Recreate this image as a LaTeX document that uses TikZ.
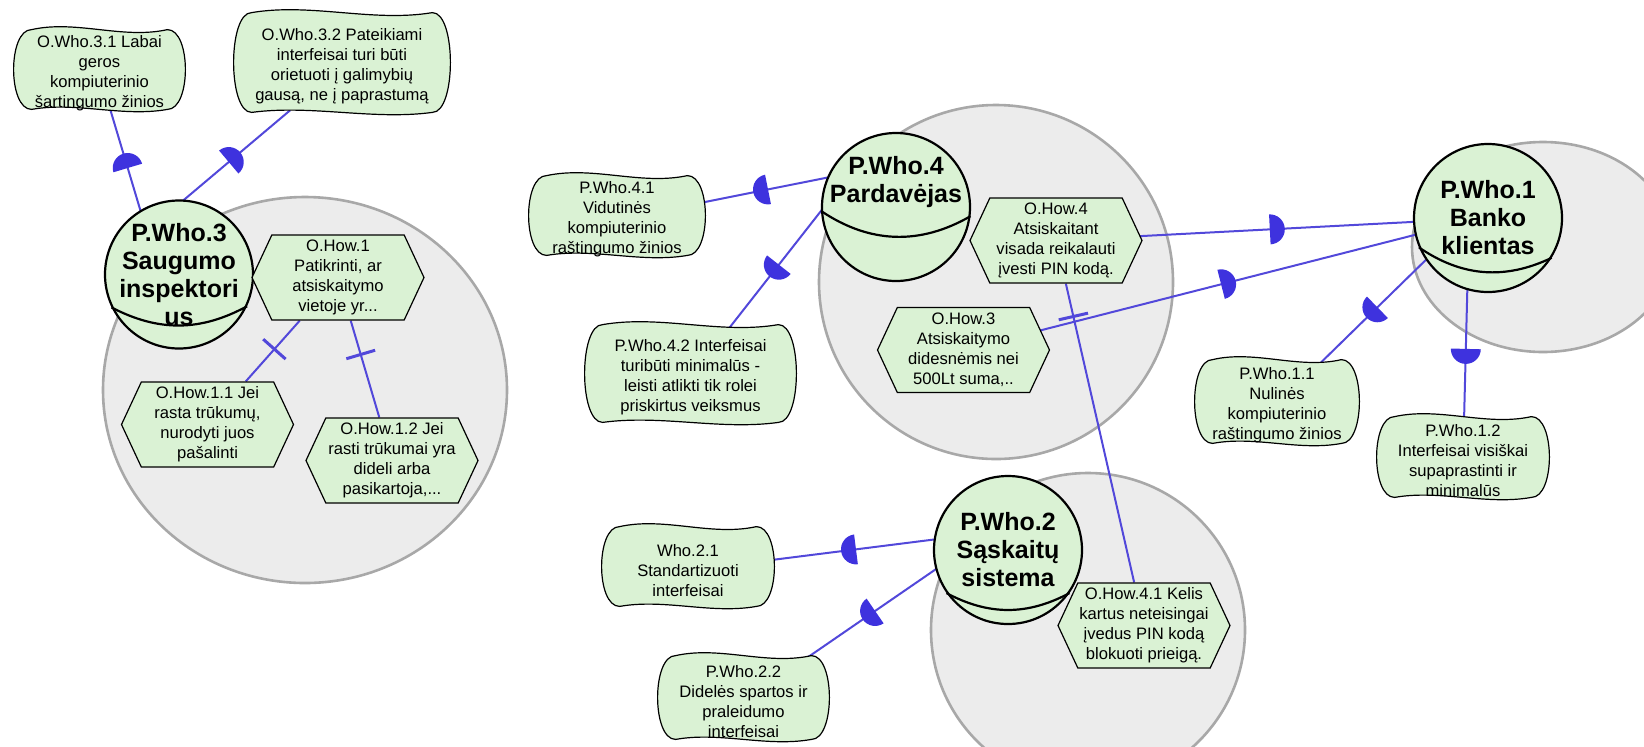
\documentclass[tikz,border=0pt]{standalone}
\usepackage{fontspec}
\setmainfont{Liberation Sans}
\usetikzlibrary{arrows.meta,positioning,calc,shapes.symbols,decorations.markings}

\definecolor{goalgreen}{RGB}{218,242,212}
\definecolor{boundgray}{RGB}{236,236,236}
\definecolor{boundline}{RGB}{168,168,168}
\definecolor{linkblue}{RGB}{82,72,218}
\definecolor{markblue}{RGB}{62,50,222}

\pgfdeclarelayer{bg}
\pgfdeclarelayer{links}
\pgfdeclarelayer{clouds}
\pgfsetlayers{bg,links,clouds,main}

\tikzset{
  boundary/.style={draw=boundline, fill=boundgray, line width=1.3pt},
  actor/.style={circle, draw, fill=goalgreen, line width=1.1pt, minimum size=74pt, inner sep=0pt},
  actorname/.style={align=center, inner sep=0pt, font=\fontsize{12.5}{14}\selectfont\bfseries},
  task/.style={signal, signal to=west and east, signal pointer angle=130, draw, fill=goalgreen,
    line width=0.6pt, minimum width=86pt, minimum height=42.5pt, inner sep=0pt, align=center,
    font=\fontsize{8.3}{10}\selectfont},
  softgoal/.style={rectangle, inner sep=0pt, align=center, font=\fontsize{8.3}{10}\selectfont},
  cloudline/.style={draw, fill=goalgreen, line width=0.6pt},
  dep/.style={draw=linkblue, line width=1pt, shorten <=-2pt, shorten >=-4pt, postaction={decorate},
    decoration={markings, mark=at position 0.5 with {\fill[markblue] (-3.5pt,-7.5pt) arc[start angle=-90, end angle=90, radius=7.5pt] -- cycle;}}},
  decomp/.style={draw=linkblue, line width=1pt, postaction={decorate},
    decoration={markings, mark=at position #1 with {\draw[linkblue, line width=1.5pt] (0pt,-7.5pt) -- (0pt,7.5pt);}}},
}

\begin{document}
\begin{tikzpicture}[x=0.5pt,y=-0.5pt]
    \useasboundingbox (0,0) rectangle (1644,746);

    % actor boundaries
    \begin{pgfonlayer}{bg}
        \clip (0,0) rectangle (1644,746);
        \draw[boundary] (305,390) ellipse [x radius=202, y radius=193];
        \draw[boundary] (996,282) circle [radius=177];
        \draw[boundary] (1543,247) ellipse [x radius=131, y radius=105];
        \draw[boundary] (1088,630) circle [radius=157];
    \end{pgfonlayer}

    % actors
    \node[actor, label={[actorname]center:P.Who.3\\Saugumo\\inspektori\\us}] (a3) at (179,274.5) {};
    \draw[line width=1.1pt] (a3.206) to[bend right=28] (a3.-25);
    \node[actor, label={[actorname, yshift=12.5pt]center:P.Who.4\\Pardavėjas}] (a4) at (896,207) {};
    \draw[line width=1.1pt] (a4.183) to[bend right=32] (a4.-7);
    \node[actor, label={[actorname]center:P.Who.1\\Banko\\klientas}] (a1) at (1488,218) {};
    \draw[line width=1.1pt] (a1.203) to[bend right=30] (a1.-32);
    \node[actor, label={[actorname]center:P.Who.2\\Sąskaitų\\sistema}] (a2) at (1008,550) {};
    \draw[line width=1.1pt] (a2.215) to[bend right=28] (a2.-35);

    % tasks
    \node[task] (t1) at (338,277.5) {O.How.1\\Patikrinti, ar\\atsiskaitymo\\vietoje yr...};
    \node[task] (t11) at (207.5,424.5) {O.How.1.1 Jei\\rasta trūkumų,\\nurodyti juos\\pašalinti};
    \node[task] (t12) at (392,460.5) {O.How.1.2 Jei\\rasti trūkumai yra\\dideli arba\\pasikartoja,...};
    \node[task] (t4) at (1056,240.5) {O.How.4\\Atsiskaitant\\visada reikalauti\\įvesti PIN kodą.};
    \node[task] (t3) at (963.5,350) {O.How.3\\Atsiskaitymo\\didesnėmis nei\\500Lt suma,..};
    \node[task] (t41) at (1144,625.5) {O.How.4.1 Kelis\\kartus neteisingai\\įvedus PIN kodą\\blokuoti prieigą.};

    % softgoals
    \node[softgoal, minimum width=75.5pt, minimum height=38.5pt] (sg31) at (99.5,73.5) {O.Who.3.1 Labai\\geros\\kompiuterinio\\šartingumo žinios};
    \node[softgoal, minimum width=98pt, minimum height=48.5pt] (sg32) at (342,66.5) {O.Who.3.2 Pateikiami\\interfeisai turi būti\\orietuoti į galimybių\\gausą, ne į paprastumą};
    \node[softgoal, minimum width=78pt, minimum height=38.5pt] (sg41) at (617,219.5) {P.Who.4.1\\Vidutinės\\kompiuterinio\\raštingumo žinios};
    \node[softgoal, minimum width=95.5pt, minimum height=47.5pt] (sg42) at (690.5,377.5) {P.Who.4.2 Interfeisai\\turibūti minimalūs -\\leisti atlikti tik rolei\\priskirtus veiksmus};
    \node[softgoal, minimum width=72pt, minimum height=40.5pt] (sg11) at (1277,405.5) {P.Who.1.1\\Nulinės\\kompiuterinio\\raštingumo žinios};
    \node[softgoal, minimum width=76pt, minimum height=39pt] (sg12) at (1463,461) {P.Who.1.2\\Interfeisai visiškai\\supaprastinti ir\\minimalūs};
    \node[softgoal, minimum width=76pt, minimum height=38.5pt] (sg21) at (688,570.5) {Who.2.1\\Standartizuoti\\interfeisai};
    \node[softgoal, minimum width=75.5pt, minimum height=40.5pt] (sg22) at (743.5,701.5) {P.Who.2.2\\Didelės spartos ir\\praleidumo\\interfeisai};

    % pillow outline behind each softgoal text
    \begin{pgfonlayer}{clouds}
        \foreach \n in {sg31,sg32,sg41,sg42,sg11,sg12,sg21,sg22} {
            \coordinate (p1) at ($(\n.north west)+(4pt,2.5pt)$);
            \coordinate (p2) at ($(\n.north east)+(-4pt,2.5pt)$);
            \coordinate (p3) at ($(\n.south east)+(-4pt,1.5pt)$);
            \coordinate (p4) at ($(\n.south west)+(4pt,1.5pt)$);
            \draw[cloudline] (p1)
                .. controls ($(p1)!0.33!(p2)+(0pt,5pt)$) and ($(p1)!0.67!(p2)+(0pt,-5pt)$) .. (p2)
                .. controls ($(p2)+(12pt,0pt)$) and ($(p3)+(12pt,0pt)$) .. (p3)
                .. controls ($(p3)!0.33!(p4)+(0pt,-4pt)$) and ($(p3)!0.67!(p4)+(0pt,4pt)$) .. (p4)
                .. controls ($(p4)+(-12pt,0pt)$) and ($(p1)+(-12pt,0pt)$) .. (p1) -- cycle;
        }
    \end{pgfonlayer}

    % dependencies and decompositions
    \begin{pgfonlayer}{links}
        \path[dep] (a3.121) -- (sg31);
        \path[dep] (a3.86) -- (sg32);
        \path[dep] (a4.157) -- (sg41);
        \path[dep] (a4.183) -- (sg42);
        \path[dep] (t4) -- (a1);
        \path[dep] (t3) -- (a1.193);
        \path[dep] (a1.214) -- (sg11);
        \path[dep] (a1.254) -- (sg12);
        \path[dep] (a2.172) -- (sg21);
        \path[dep] (a2.195) -- (sg22);
        \path[decomp=0.47] (t1) -- (t11);
        \path[decomp=0.35] (t1) -- (t12);
        \path[decomp=0.11] (t4) -- (t41);
    \end{pgfonlayer}
\end{tikzpicture}
\end{document}
